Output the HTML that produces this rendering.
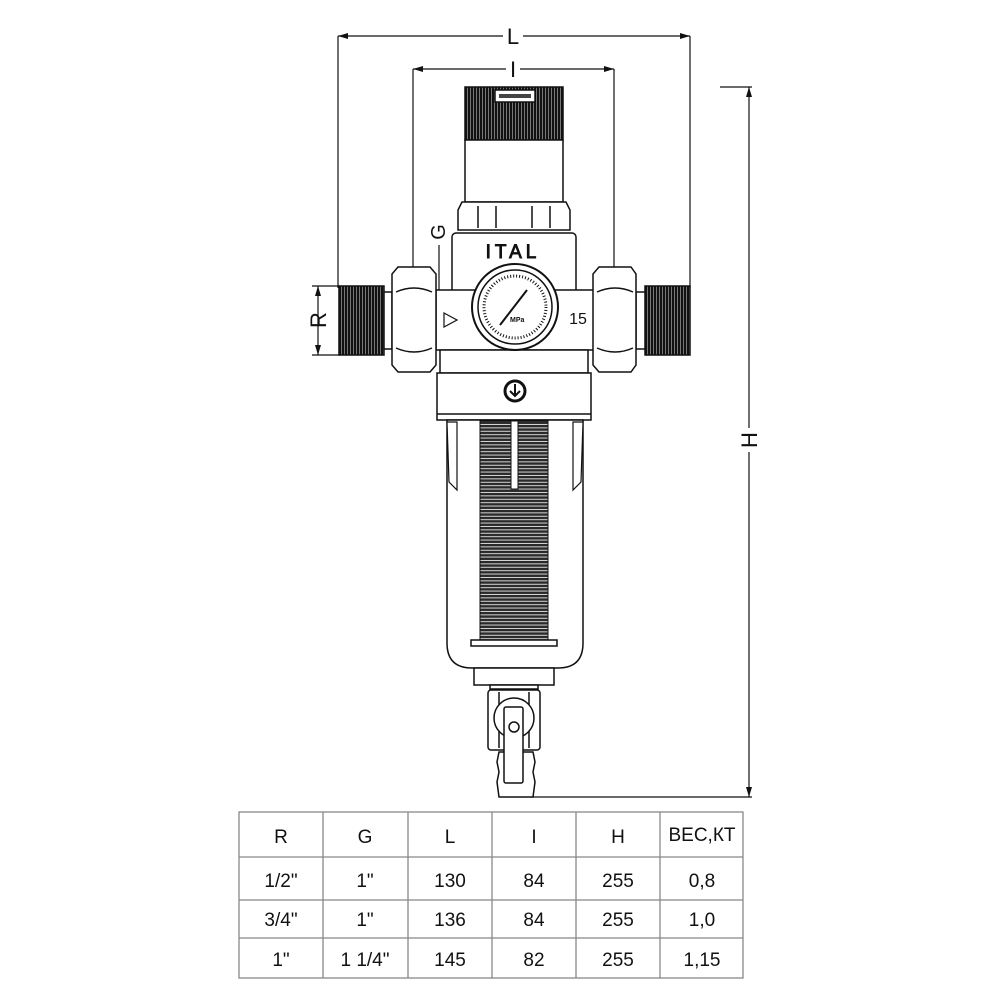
<!DOCTYPE html>
<html><head><meta charset="utf-8"><style>
html,body{margin:0;padding:0;background:#fff}
svg{display:block}
text{font-family:"Liberation Sans",sans-serif;fill:#111}
</style></head><body>
<svg width="1000" height="1000" viewBox="0 0 1000 1000" xmlns="http://www.w3.org/2000/svg">
<defs>
<pattern id="vh" width="3" height="10" patternUnits="userSpaceOnUse"><rect width="3" height="10" fill="#111"/><rect x="2.2" width="0.6" height="10" fill="#bbb"/></pattern>
<pattern id="hh" width="10" height="3.4" patternUnits="userSpaceOnUse"><rect width="10" height="3.4" fill="#2a2a2a"/><rect y="2.4" width="10" height="0.9" fill="#e8e8e8"/></pattern>
<marker id="ar" viewBox="0 0 10 6" refX="10" refY="3" markerWidth="10" markerHeight="6" orient="auto-start-reverse" markerUnits="userSpaceOnUse"><path d="M0,0 L10,3 L0,6z" fill="#111"/></marker>
</defs>
<g stroke="#111" stroke-width="1.2" fill="none">
<line x1="338" y1="36" x2="690" y2="36" marker-start="url(#ar)" marker-end="url(#ar)"/>
<line x1="338" y1="36" x2="338" y2="288"/><line x1="690" y1="36" x2="690" y2="288"/>
<line x1="413" y1="69" x2="614" y2="69" marker-start="url(#ar)" marker-end="url(#ar)"/>
<line x1="413" y1="69" x2="413" y2="268"/><line x1="614" y1="69" x2="614" y2="268"/>
<line x1="749" y1="87" x2="749" y2="797" marker-start="url(#ar)" marker-end="url(#ar)"/>
<line x1="720" y1="87" x2="752" y2="87"/><line x1="530" y1="797" x2="752" y2="797"/>
<line x1="318" y1="286" x2="318" y2="355" marker-start="url(#ar)" marker-end="url(#ar)"/>
<line x1="312" y1="286" x2="340" y2="286"/><line x1="312" y1="355" x2="340" y2="355"/>
<line x1="439" y1="291" x2="439" y2="348" marker-start="url(#ar)" marker-end="url(#ar)"/>
<line x1="439" y1="245" x2="439" y2="291"/>
</g>
<rect x="503" y="25" width="20" height="22" fill="#fff"/>
<text x="513" y="44" font-size="22" text-anchor="middle">L</text>
<rect x="506" y="58" width="14" height="22" fill="#fff"/>
<text x="513" y="77" font-size="22" text-anchor="middle">I</text>
<rect x="738" y="428" width="22" height="24" fill="#fff"/>
<text x="757" y="440" font-size="22" text-anchor="middle" transform="rotate(-90 757 440)">H</text>
<text x="326" y="320" font-size="22" text-anchor="middle" transform="rotate(-90 326 320)">R</text>
<text x="445" y="232" font-size="20" text-anchor="middle" transform="rotate(-90 445 232)">G</text>

<g stroke="#111" stroke-width="1.5">
<rect x="465" y="87" width="98" height="53" fill="url(#vh)"/>
<rect x="495" y="90" width="40" height="12" fill="#fff"/>
<rect x="499" y="94" width="32" height="4" fill="#444" stroke="none"/>
<rect x="465" y="140" width="98" height="62" fill="#fff"/>
<path d="M462,202 L566,202 L570,210 L570,230 L458,230 L458,210z" fill="#fff"/>
<line x1="478" y1="206" x2="478" y2="228"/><line x1="496" y1="206" x2="496" y2="228"/><line x1="532" y1="206" x2="532" y2="228"/><line x1="550" y1="206" x2="550" y2="228"/>
<rect x="452" y="233" width="124" height="62" rx="4" fill="#fff"/>
<rect x="339" y="286" width="45" height="69" fill="url(#vh)"/>
<rect x="645" y="286" width="45" height="69" fill="url(#vh)"/>
<rect x="384" y="292" width="8" height="57" fill="#fff"/>
<rect x="636" y="292" width="9" height="57" fill="#fff"/>
<path d="M436,290 L595,290 L595,350 L436,350z" fill="#fff"/>
<path d="M398,267 L430,267 L436,274 L436,365 L430,372 L398,372 L392,365 L392,274z" fill="#fff"/>
<path d="M396,292 Q414,284 432,292 M396,348 Q414,356 432,348" fill="none"/>
<path d="M599,267 L631,267 L636,274 L636,365 L631,372 L599,372 L593,365 L593,274z" fill="#fff"/>
<path d="M597,292 Q615,284 633,292 M597,348 Q615,356 633,348" fill="none"/>
<rect x="440" y="350" width="148" height="23" fill="#fff"/>
<rect x="437" y="373" width="154" height="47" fill="#fff"/>
<line x1="437" y1="414" x2="591" y2="414"/>
<circle cx="515" cy="391" r="10" fill="#fff" stroke-width="3"/>
<path d="M515,384 L515,395 M510,391 L515,396 L520,391" fill="none" stroke-width="2"/>
<circle cx="515" cy="307" r="43" fill="#fff" stroke-width="2"/>
<circle cx="515" cy="307" r="37" fill="#fff" stroke-width="1.5"/>
<circle cx="515" cy="307" r="31" fill="none" stroke-width="3" stroke-dasharray="1 2"/>
<line x1="500" y1="325" x2="527" y2="290" stroke-width="2"/>
<path d="M447,420 L583,420 L583,643 Q583,668 558,668 L472,668 Q447,668 447,643z" fill="#fff"/>
<path d="M447,422 L457,422 L457,490 L449,482z M583,422 L573,422 L573,490 L581,482z" fill="#fff" stroke-width="1.2"/>
<rect x="480" y="421" width="68" height="219" fill="url(#hh)" stroke-width="1"/>
<rect x="511" y="421" width="7" height="68" fill="#fff" stroke-width="1"/>
<rect x="471" y="640" width="86" height="6" fill="#fff"/>
<rect x="474" y="668" width="80" height="17" fill="#fff"/>
<rect x="490" y="685" width="48" height="4" fill="#fff"/>
<rect x="488" y="690" width="52" height="60" rx="3" fill="#fff"/>
<line x1="499" y1="692" x2="499" y2="748"/><line x1="529" y1="692" x2="529" y2="748"/>
<circle cx="514" cy="718" r="20" fill="#fff"/>
<path d="M499,752 L533,752 L535,762 L533,772 L535,782 L533,797 L499,797 L497,782 L499,772 L497,762z" fill="#fff"/>
<rect x="504" y="707" width="19" height="76" rx="2" fill="#fff"/>
<circle cx="514" cy="727" r="5" fill="#fff"/>
</g>
<text x="513" y="258" font-size="19" text-anchor="middle" fill="#fff" stroke="#111" stroke-width="0.9" letter-spacing="4">ITAL</text>
<text x="578" y="324" font-size="16" text-anchor="middle">15</text>
<path d="M444,313 L457,320 L444,327z" fill="#fff" stroke="#111" stroke-width="1.2"/>
<text x="510" y="322" font-size="7" font-weight="bold">MPa</text>

<g stroke="#888" stroke-width="1.3">
<rect x="239" y="812" width="504" height="166" fill="none"/>
<line x1="239" y1="857" x2="743" y2="857"/><line x1="239" y1="900" x2="743" y2="900"/><line x1="239" y1="938" x2="743" y2="938"/>
<line x1="323" y1="812" x2="323" y2="978"/><line x1="408" y1="812" x2="408" y2="978"/><line x1="492" y1="812" x2="492" y2="978"/><line x1="576" y1="812" x2="576" y2="978"/><line x1="660" y1="812" x2="660" y2="978"/>
</g>
<g font-size="19" text-anchor="middle">
<text x="281" y="843">R</text><text x="365" y="843">G</text><text x="450" y="843">L</text><text x="534" y="843">I</text><text x="618" y="843">H</text><text x="702" y="841">ВЕС,КТ</text>
<text x="281" y="887">1/2"</text><text x="365" y="887">1"</text><text x="450" y="887">130</text><text x="534" y="887">84</text><text x="618" y="887">255</text><text x="702" y="887">0,8</text>
<text x="281" y="926">3/4"</text><text x="365" y="926">1"</text><text x="450" y="926">136</text><text x="534" y="926">84</text><text x="618" y="926">255</text><text x="702" y="926">1,0</text>
<text x="281" y="966">1"</text><text x="365" y="966">1 1/4"</text><text x="450" y="966">145</text><text x="534" y="966">82</text><text x="618" y="966">255</text><text x="702" y="966">1,15</text>
</g>
</svg>
</body></html>
